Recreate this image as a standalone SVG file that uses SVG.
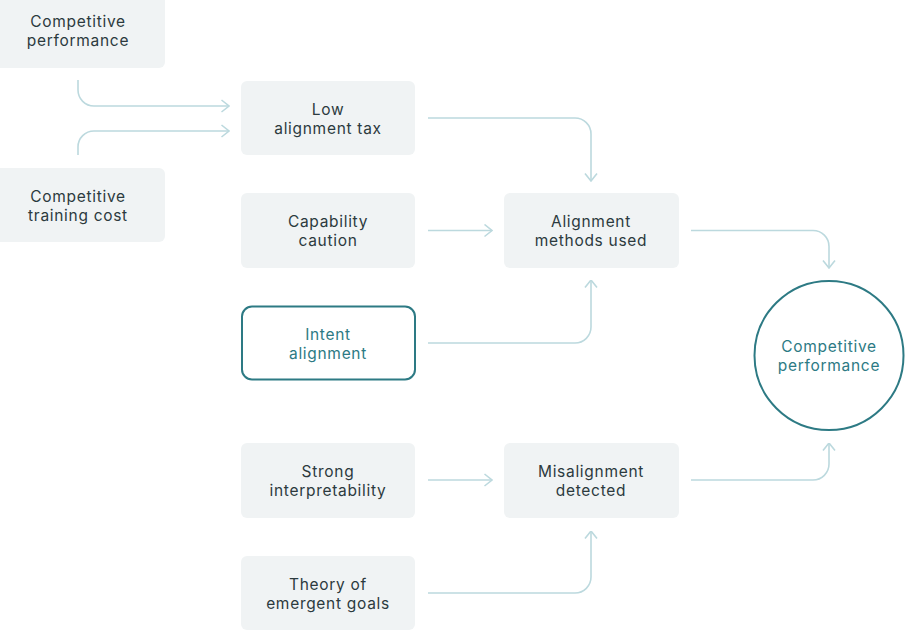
<svg xmlns="http://www.w3.org/2000/svg" width="918" height="634" viewBox="0 0 918 634">
<defs>
<style>
.n{fill:#f0f3f4;}
.t{font-family:Inter,"Open Sans","Liberation Sans",sans-serif;font-size:15.5px;letter-spacing:0.7px;fill:#2c3a3e;text-anchor:middle;}
.tt{fill:#2d7a84;}
.hl{fill:#ffffff;stroke:#2d7a84;stroke-width:2;}
.c{fill:none;stroke:#bcd9de;stroke-width:1.6;}
</style>
<marker id="a" viewBox="0 0 9 14" refX="8.5" refY="7" markerWidth="9" markerHeight="14" markerUnits="userSpaceOnUse" orient="auto">
<path d="M1,1 L8.5,7 L1,13" fill="none" stroke="#bcd9de" stroke-width="1.6"/>
</marker>
</defs>
<rect width="918" height="634" fill="#ffffff"/>
<g id="connectors">
<path class="c" marker-end="url(#a)" d="M78,80 V90 A16,16 0 0 0 94,106 H229"/>
<path class="c" marker-end="url(#a)" d="M78,155 V147 A16,16 0 0 1 94,131 H229"/>
<path class="c" marker-end="url(#a)" d="M428,118 H575 A16,16 0 0 1 591,134 V181"/>
<path class="c" marker-end="url(#a)" d="M428,230.5 H492"/>
<path class="c" marker-end="url(#a)" d="M428,343 H575 A16,16 0 0 0 591,327 V280"/>
<path class="c" marker-end="url(#a)" d="M691,230.5 H813 A16,16 0 0 1 829,246.5 V268"/>
<path class="c" marker-end="url(#a)" d="M691,480 H813 A16,16 0 0 0 829,464 V443"/>
<path class="c" marker-end="url(#a)" d="M428,480 H492"/>
<path class="c" marker-end="url(#a)" d="M428,593 H575 A16,16 0 0 0 591,577 V531"/>
</g>
<g id="n-comp-perf">
<rect class="n" x="-9" y="-7" width="174" height="75" rx="6"/>
<text class="t" x="78" y="27">Competitive</text>
<text class="t" x="78" y="46">performance</text>
</g>
<g id="n-comp-cost">
<rect class="n" x="-9" y="168" width="174" height="74" rx="6"/>
<text class="t" x="78" y="201.5">Competitive</text>
<text class="t" x="78" y="220.5">training cost</text>
</g>
<g id="n-low-tax">
<rect class="n" x="241" y="81" width="174" height="74" rx="6"/>
<text class="t" x="328" y="114.5">Low</text>
<text class="t" x="328" y="133.5">alignment tax</text>
</g>
<g id="n-cap-caution">
<rect class="n" x="241" y="193" width="174" height="75" rx="6"/>
<text class="t" x="328" y="227">Capability</text>
<text class="t" x="328" y="246">caution</text>
</g>
<g id="n-intent">
<rect class="hl" x="242" y="306.5" width="173" height="73" rx="10"/>
<text class="t tt" x="328" y="339.5">Intent</text>
<text class="t tt" x="328" y="358.5">alignment</text>
</g>
<g id="n-strong-interp">
<rect class="n" x="241" y="443" width="174" height="75" rx="6"/>
<text class="t" x="328" y="477">Strong</text>
<text class="t" x="328" y="496">interpretability</text>
</g>
<g id="n-theory">
<rect class="n" x="241" y="556" width="174" height="74" rx="6"/>
<text class="t" x="328" y="589.5">Theory of</text>
<text class="t" x="328" y="608.5">emergent goals</text>
</g>
<g id="n-align-methods">
<rect class="n" x="504" y="193" width="175" height="75" rx="6"/>
<text class="t" x="591" y="227">Alignment</text>
<text class="t" x="591" y="246">methods used</text>
</g>
<g id="n-misalign">
<rect class="n" x="504" y="443" width="175" height="75" rx="6"/>
<text class="t" x="591" y="477">Misalignment</text>
<text class="t" x="591" y="496">detected</text>
</g>
<g id="n-comp-perf-out">
<circle cx="829" cy="355.5" r="74.5" fill="#ffffff" stroke="#2d7a84" stroke-width="2"/>
<text class="t tt" x="829" y="352">Competitive</text>
<text class="t tt" x="829" y="371">performance</text>
</g>
</svg>
